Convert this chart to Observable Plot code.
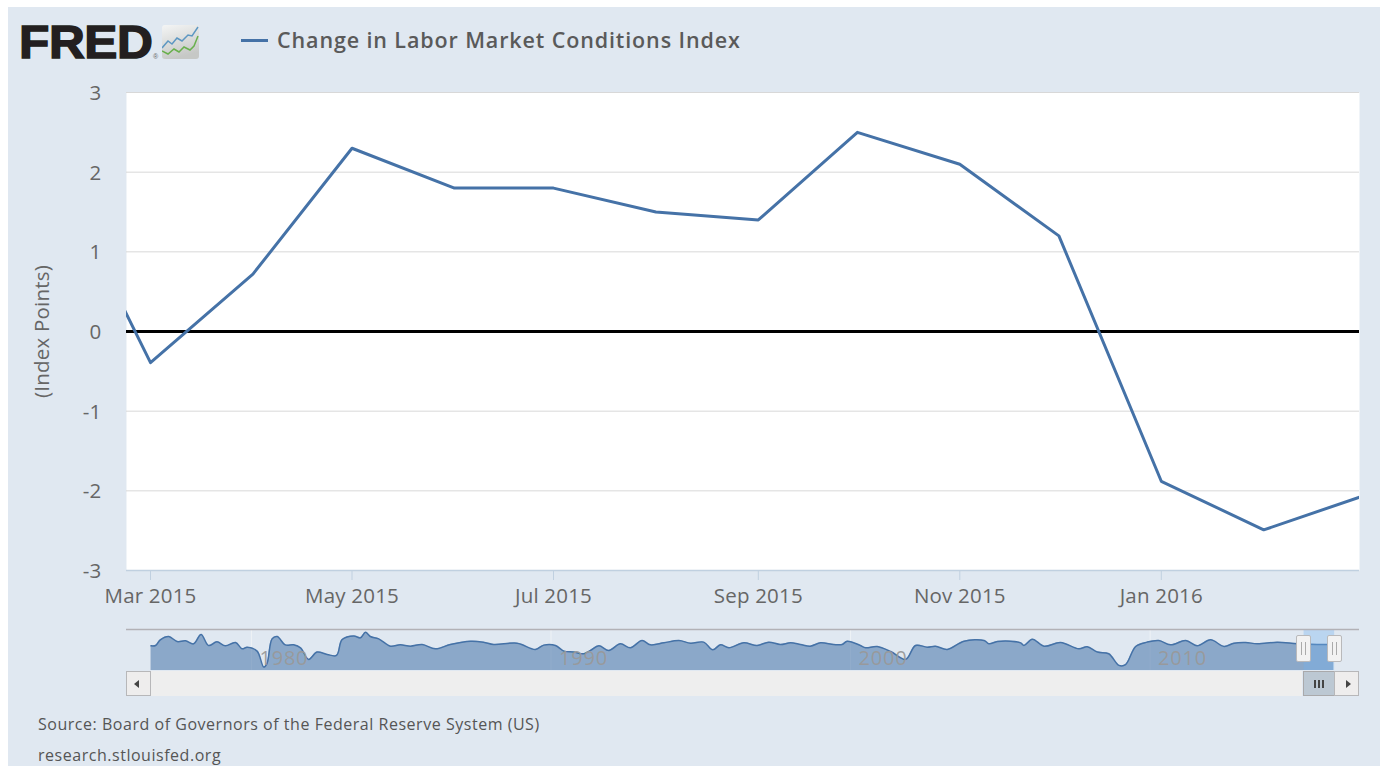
<!DOCTYPE html>
<html><head><meta charset="utf-8">
<script src="https://cdn.jsdelivr.net/npm/d3@7"></script>
<script src="https://cdn.jsdelivr.net/npm/@observablehq/plot@0.6"></script>
<style>
html,body{margin:0;padding:0;background:#fff;overflow:hidden;width:1380px;height:766px}
#panel{position:absolute;left:8px;top:7px;width:1372px;height:759px;background:#e0e8f1;overflow:hidden;font-family:"Open Sans",sans-serif}
.abs{position:absolute}
svg{display:block}
#main,#nav{position:absolute;left:0}
#main{top:73px}
#nav{top:622px}
.btn{background:#eeeded;border:1.5px solid #b7b7b9;box-sizing:border-box}
.hdl{background:#f2f2f2;border:1.5px solid #b9b9bb;border-radius:2px;box-sizing:border-box;width:15px;height:27px}
.hdl:after{content:"";position:absolute;left:3.5px;top:6px;width:3px;height:13px;border-left:1.5px solid #aaa;border-right:1.5px solid #aaa}
.foot{font-size:16px;letter-spacing:.53px;color:#555;white-space:nowrap;line-height:18px}
</style></head><body>
<div id="panel">
  <div class="abs" style="left:11px;top:9px;font:bold 46px 'Liberation Sans';letter-spacing:-.4px;color:#231f20;-webkit-text-stroke:1.4px #231f20;line-height:52px;transform:scaleX(1.08);transform-origin:0 0">FRED</div>
  <div class="abs" style="left:145px;top:46px;font:7px 'Liberation Sans';color:#666">®</div>
  <svg class="abs" style="left:154px;top:18px" width="37" height="34" viewBox="0 0 37 34">
    <defs><linearGradient id="g" x1="0" y1="0" x2="0.3" y2="1"><stop offset="0" stop-color="#f4f5f5"/><stop offset="1" stop-color="#c6c8c6"/></linearGradient></defs>
    <rect width="37" height="34" rx="3" fill="url(#g)"/>
    <path d="M0 23L6 16L10 19L15 13L20 16L26 10L30 11L36 2" fill="none" stroke="#5d97c2" stroke-width="1.5"/>
    <path d="M0 26L6 29L12 24L17 27L22 22L28 25L32 21L36 11" fill="none" stroke="#69b04d" stroke-width="1.5"/>
  </svg>
  <div class="abs" style="left:233px;top:31.5px;width:27px;height:3px;background:#4572a7"></div>
  <div class="abs" id="legend" style="left:269px;top:18px;font-size:21.5px;font-weight:600;color:#5a5a5a;letter-spacing:.88px;white-space:nowrap;line-height:30px">Change in Labor Market Conditions Index</div>
  <div id="main"></div>
  <div id="nav"></div>
  <!-- scrollbar -->
  <div class="abs" style="left:142px;top:664px;width:1152px;height:25px;background:#eeeeee"></div>
  <div class="abs btn" style="left:118px;top:664px;width:25px;height:25px"></div>
  <div class="abs" style="left:126px;top:672.5px;width:0;height:0;border-top:4px solid transparent;border-bottom:4px solid transparent;border-right:5px solid #444"></div>
  <div class="abs" style="left:1295px;top:664px;width:32px;height:25px;background:#bcc8d3;border:1.5px solid #a9a9ab;box-sizing:border-box"></div>
  <div class="abs" style="left:1306px;top:673px;width:2px;height:8px;background:#444;box-shadow:4px 0 0 #444,8px 0 0 #444"></div>
  <div class="abs btn" style="left:1326px;top:664px;width:25px;height:25px"></div>
  <div class="abs" style="left:1338px;top:672.5px;width:0;height:0;border-top:4px solid transparent;border-bottom:4px solid transparent;border-left:5px solid #444"></div>
  <div class="abs hdl" style="left:1288px;top:628px"></div>
  <div class="abs hdl" style="left:1319px;top:628px"></div>
  <div class="abs foot" id="src" style="left:30px;top:708px">Source: Board of Governors of the Federal Reserve System (US)</div>
  <div class="abs foot" id="site" style="left:30px;top:739px">research.stlouisfed.org</div>
</div>
<script>
// ---- main series ----
const months = ["2015-02-01","2015-03-01","2015-04-01","2015-05-01","2015-06-01","2015-07-01","2015-08-01","2015-09-01","2015-10-01","2015-11-01","2015-12-01","2016-01-01","2016-02-01","2016-03-01"];
const indexValues = [1.95,-0.39,0.72,2.3,1.8,1.8,1.5,1.4,2.5,2.1,1.2,-1.88,-2.49,-2.08];
const xTickDates = ["2015-03-01","2015-05-01","2015-07-01","2015-09-01","2015-11-01","2016-01-01"];
const xTickLabels = ["Mar 2015","May 2015","Jul 2015","Sep 2015","Nov 2015","Jan 2016"];
const yTicks = [-3,-2,-1,0,1,2,3];

// ---- navigator series (full history, read from the overview strip) ----
const navYears = [1976.65,1976.8,1976.96,1977.24,1977.52,1977.8,1978.07,1978.32,1978.57,1978.85,1979.13,1979.47,1979.69,1979.86,1980.19,1980.41,1980.52,1980.69,1980.86,1981.13,1981.41,1981.64,1981.91,1982.19,1982.53,1982.84,1983.03,1983.42,1983.64,1983.81,1983.97,1984.25,1984.64,1984.97,1985.31,1985.7,1986.14,1986.64,1987.31,1987.75,1988.09,1988.87,1989.48,1989.76,
1990.15,1990.43,1990.76,1991.1,1991.32,1991.6,1991.93,1992.32,1992.65,1993.04,1993.32,1993.77,1994.27,1994.66,1995.1,1995.4,1995.66,1995.94,1996.44,1996.88,1997.27,1997.66,1998,1998.33,1998.66,1999,1999.44,1999.72,1999.89,2000.33,2000.5,2000.89,2001.34,2001.84,2002.17,2002.56,2002.84,2003.23,2003.79,2004.46,2004.62,2004.9,2005.35,2005.68,
2005.79,2006.07,2006.46,2007.01,2007.62,2007.9,2008.24,2008.62,2008.96,2009.18,2009.52,2009.9,2010.29,2010.68,2011.19,2011.57,2012.02,2012.47,2012.8,2013.19,2013.58,2014.25,2014.92,2015.58,2016.13];
const navValues = [-0.5,0,8.1,12.9,5.7,6.7,2.4,15.7,0,5.2,-0.5,4.3,-4.8,-2.4,-8.1,-31,-26,9.5,12.9,0.9,0.9,-3.4,-20,-9.5,-12.9,-14.3,8.6,13.8,11,19,12.9,9.5,-1,0.9,-1,1.4,-4.8,1.4,6.2,4.8,1.4,3.3,-5.7,0.5,
0,-8.1,-9.5,-11.9,-7.1,-0.5,-7.1,2.4,-3.3,7.1,0.95,3.8,7.1,3.3,4.8,-6.2,0.95,-3.3,3.8,0,4.8,1.4,3.8,1.4,-1,3.8,1.4,1.4,6.2,0,-3.3,-1.4,-8.6,-20,0,-2.4,-1,-5.7,6.2,7.1,2.4,5.7,6.2,3.8,
0,9,-1,4.3,-4.8,-1.9,-9.5,-11.9,-28.6,-27.6,-1.4,4.8,7.1,0.9,7.1,-0.5,8.1,-1.4,3.3,4.3,2.4,4.8,2.4,1.4,1.4];
const navTickYears = [1980,1990,2000,2010];
const selectedRange = [2015.14,2016.16];

const DAY = 864e5;
const mar1 = Date.UTC(2015,2,1);
const mainData = months.map((m,i)=>({date:new Date(m+"T00:00:00Z"),value:indexValues[i]}));
const tickDates = xTickDates.map(d=>new Date(d+"T00:00:00Z"));
const labelFor = new Map(tickDates.map((d,i)=>[+d,xTickLabels[i]]));

const main = Plot.plot({
  width:1372,height:530,
  marginLeft:118,marginRight:21,marginTop:12,marginBottom:40,
  style:{fontFamily:"'Open Sans',sans-serif",fontSize:"20.5px",letterSpacing:".2px",color:"#666",background:"transparent",overflow:"visible"},
  x:{type:"utc",domain:[new Date(mar1-7.27*DAY),new Date(mar1+366*DAY)]},
  y:{domain:[-3,3]},
  marks:[
    Plot.frame({fill:"#fff",stroke:null}),
    Plot.gridY(yTicks,{stroke:"#d8d8d8",strokeOpacity:1,strokeWidth:1}),
    Plot.ruleY([-3],{stroke:"#c0d0e0",strokeWidth:1.5}),
    Plot.axisX({ticks:tickDates,tickFormat:d=>labelFor.get(+d),tickSize:10,tickPadding:8,stroke:"#c0d0e0",strokeOpacity:1,fill:"#666",label:null}),
    Plot.axisY({ticks:yTicks,tickFormat:d=>String(d),tickSize:0,tickPadding:25,fill:"#666",dy:1,label:"(Index Points)",labelAnchor:"center",labelArrow:"none",labelOffset:92}),
    Plot.ruleY([0],{stroke:"#000",strokeWidth:3}),
    Plot.lineY(mainData,{x:"date",y:"value",stroke:"#4572a7",strokeWidth:3,clip:true,curve:"linear"})
  ]
});
document.getElementById("main").append(main);

const navData = navYears.map((y,i)=>({year:y,value:navValues[i]}));
const nav = Plot.plot({
  width:1372,height:41,
  marginLeft:118,marginRight:21,marginTop:0,marginBottom:0,
  style:{fontFamily:"'Open Sans',sans-serif",fontSize:"20px",letterSpacing:".8px",background:"transparent",overflow:"visible"},
  x:{domain:[1975.83,2016.99],axis:null},
  y:{domain:[-36,23],axis:null},
  marks:[
    Plot.ruleX(navTickYears,{stroke:"#eef2f6",strokeWidth:1}),
    Plot.areaY(navData,{x:"year",y1:-36,y2:"value",fill:"#4572a7",fillOpacity:.55,curve:"catmull-rom"}),
    Plot.lineY(navData,{x:"year",y:"value",stroke:"#4572a7",strokeWidth:1.5,curve:"catmull-rom"}),
    Plot.text(navTickYears,{x:d=>d,y:-19,text:d=>String(d),textAnchor:"start",dx:8,fill:"#999",fillOpacity:.95}),
    Plot.rect([selectedRange],{x1:d=>d[0],x2:d=>d[1],y1:-36,y2:23,fill:"rgb(116,177,237)",fillOpacity:.35}),
    Plot.ruleY([23],{stroke:"#b2b1b6",strokeWidth:1.5})
  ]
});
document.getElementById("nav").append(nav);
</script>
</body></html>
